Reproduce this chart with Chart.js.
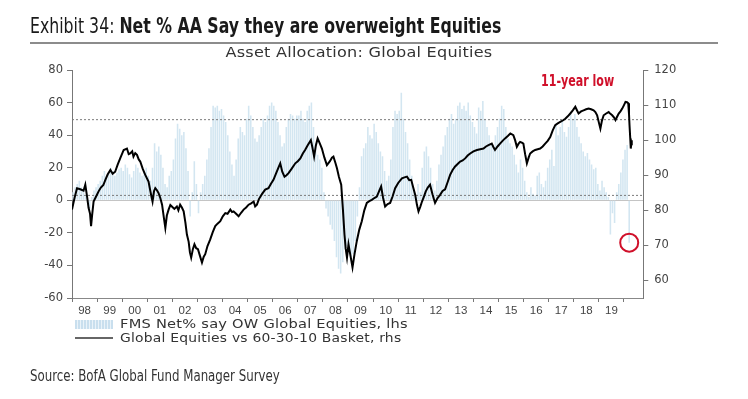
<!DOCTYPE html>
<html>
<head>
<meta charset="utf-8">
<script src="https://cdn.jsdelivr.net/npm/chart.js@4"></script>
<style>
  html,body{margin:0;padding:0;background:#fff;}
  #wrap{position:relative;width:748px;height:399px;overflow:hidden;}
  canvas{position:absolute;left:0;top:0;}
  .t{position:absolute;white-space:nowrap;}
  #title{left:30px;top:13px;font-family:"Liberation Sans Narrow","DejaVu Sans Condensed",sans-serif;font-size:22px;color:#1a1a1a;transform:scaleX(0.795);transform-origin:0 0;}
  #title b{font-weight:bold;}
  #rule{position:absolute;left:30px;top:42px;width:688px;height:2px;background:#8c8c8c;}
  #sub{left:0;width:718px;text-align:center;top:44px;font-family:"DejaVu Sans",sans-serif;font-size:13.5px;color:#333;letter-spacing:0.2px;transform:scaleX(1.19);transform-origin:359px 0;}
  #low{left:541px;top:71px;font-family:"Liberation Sans Narrow","DejaVu Sans Condensed",sans-serif;font-weight:bold;font-size:16px;color:#d0102a;transform:scaleX(0.77);transform-origin:0 0;}
  .leg{left:120px;font-family:"DejaVu Sans",sans-serif;font-size:12.5px;color:#333;letter-spacing:0.2px;transform-origin:0 0;}
  #sw1{position:absolute;left:75px;top:320px;width:38px;height:9px;background:repeating-linear-gradient(90deg,#c9dfee 0px,#c9dfee 2px,#eaf3f9 2px,#eaf3f9 3px);}
  #sw2{position:absolute;left:75px;top:337px;width:38px;height:2px;background:#666;}
  #src{left:30px;top:366px;font-family:"Liberation Sans Narrow","DejaVu Sans Condensed",sans-serif;font-size:16px;color:#333;transform:scaleX(0.82);transform-origin:0 0;}
</style>
</head>
<body>
<div id="wrap">
  <canvas id="c" width="748" height="399"></canvas>
  <div class="t" id="title">Exhibit 34: <b>Net % AA Say they are overweight Equities</b></div>
  <div id="rule"></div>
  <div class="t" id="sub">Asset Allocation: Global Equities</div>
  <div class="t" id="low">11-year low</div>
  <div id="sw1"></div>
  <div class="t leg" style="top:316px;transform:scaleX(1.17)">FMS Net% say OW Global Equities, lhs</div>
  <div id="sw2"></div>
  <div class="t leg" style="top:330px;transform:scaleX(1.11)">Global Equities vs 60-30-10 Basket, rhs</div>
  <div class="t" id="src">Source: BofA Global Fund Manager Survey</div>
</div>
<script>
// ---- DATA ----
const startYear = 1998;
// FMS net % overweight global equities, monthly from Jan 1998 (lhs)
const fms1998 = [5, 8, 10, 12, 8, 6, 3, -2, -5, 2, 6, 8];
const fms1999 = [10, 12, 15, 18, 14, 16, 20, 18, 15, 17, 19, 20];
const fms2000 = [18, 22, 20, 16, 14, 18, 22, 20, 17, 15, 18, 20];
const fms2001 = [15, 12, 20, 35, 30, 33, 28, 20, 10, 8, 15, 18];
const fms2002 = [25, 38, 47, 44, 40, 42, 32, 18, -10, 5, 24, 10];
const fms2003 = [-8, 5, 10, 15, 25, 32, 45, 58, 57, 58, 55, 56];
const fms2004 = [52, 48, 40, 30, 22, 15, 25, 38, 45, 42, 40, 50];
const fms2005 = [58, 52, 45, 38, 36, 40, 45, 50, 48, 52, 58, 60];
const fms2006 = [58, 55, 48, 40, 33, 35, 45, 50, 53, 52, 50, 52];
const fms2007 = [52, 55, 50, 48, 55, 58, 60, 45, 35, 28, 25, 20];
const fms2008 = [5, -5, -10, -15, -18, -25, -35, -42, -45, -38, -30, -28];
const fms2009 = [-30, -37, -33, -25, -10, 8, 27, 32, 35, 45, 40, 38];
const fms2010 = [47, 42, 35, 30, 27, 18, 12, 15, 25, 45, 55, 53];
const fms2011 = [55, 66, 50, 42, 35, 25, 15, 7, 2, 10, 5, 20];
const fms2012 = [30, 33, 27, 20, 10, 6, 12, 22, 28, 33, 40, 45];
const fms2013 = [50, 53, 47, 50, 58, 60, 56, 58, 55, 60, 52, 48];
const fms2014 = [45, 41, 57, 55, 61, 50, 45, 40, 35, 33, 40, 45];
const fms2015 = [50, 58, 56, 45, 38, 35, 33, 28, 22, 17, 25, 20];
const fms2016 = [12, 5, 2, 8, 4, 3, 15, 17, 10, 8, 12, 20];
const fms2017 = [25, 31, 21, 47, 40, 45, 49, 42, 39, 45, 53, 50];
const fms2018 = [53, 45, 39, 35, 30, 27, 29, 25, 22, 19, 20, 10];
const fms2019 = [6, 12, 8, 5, 2, -21, -8, -14, 5, 10, 17, 25];
const fms2020 = [31, 34, -26];

// Global Equities vs 60-30-10 basket (rhs): dates (decimal years) and values
const lineDates = [1998.00,1998.10,1998.20,1998.33,1998.46,1998.53,1998.60,1998.66,1998.72,1998.76,1998.80,1998.86,1998.95,
1999.06,1999.15,1999.25,1999.33,1999.42,1999.53,1999.62,1999.72,1999.82,1999.92,
2000.06,2000.19,2000.26,2000.32,2000.40,2000.45,2000.52,2000.59,2000.66,2000.72,2000.82,2000.92,
2001.05,2001.15,2001.21,2001.27,2001.32,2001.38,2001.45,2001.52,2001.59,2001.66,2001.72,2001.78,2001.85,2001.92,2001.98,
2002.08,2002.18,2002.24,2002.31,2002.38,2002.45,2002.52,2002.58,2002.65,2002.70,2002.75,2002.82,2002.88,2002.95,
2003.02,2003.10,2003.18,2003.25,2003.31,2003.40,2003.51,2003.61,2003.71,2003.80,2003.91,
2004.01,2004.11,2004.20,2004.31,2004.38,2004.44,2004.54,2004.64,2004.74,2004.84,2004.94,
2005.04,2005.14,2005.24,2005.30,2005.37,2005.45,2005.57,2005.70,2005.83,2005.93,
2006.03,2006.15,2006.24,2006.30,2006.38,2006.47,2006.55,2006.63,2006.75,2006.90,
2007.00,2007.10,2007.20,2007.29,2007.40,2007.52,2007.58,2007.65,2007.72,2007.79,2007.88,2007.96,
2008.06,2008.16,2008.28,2008.36,2008.42,2008.50,2008.56,2008.64,2008.73,2008.80,2008.86,2008.91,2008.96,
2009.02,2009.10,2009.18,2009.26,2009.35,2009.45,2009.55,2009.65,2009.75,2009.85,2009.95,
2010.05,2010.15,2010.24,2010.32,2010.40,2010.48,2010.58,2010.68,2010.78,2010.88,
2011.00,2011.15,2011.25,2011.35,2011.44,2011.52,2011.60,2011.68,2011.75,2011.81,2011.88,2011.95,
2012.03,2012.10,2012.18,2012.27,2012.37,2012.47,2012.57,2012.67,2012.77,2012.87,2012.97,
2013.07,2013.17,2013.27,2013.37,2013.47,2013.57,2013.67,2013.77,2013.87,
2014.00,2014.14,2014.27,2014.40,2014.50,2014.60,2014.73,2014.80,2014.86,2014.96,
2015.06,2015.16,2015.26,2015.37,2015.47,2015.59,2015.66,2015.73,2015.80,2015.86,2015.93,2015.99,
2016.06,2016.13,2016.20,2016.26,2016.36,2016.46,2016.56,2016.66,2016.76,2016.86,2016.96,
2017.06,2017.16,2017.26,2017.36,2017.46,2017.56,2017.66,2017.76,2017.86,2017.96,
2018.06,2018.12,2018.19,2018.29,2018.39,2018.49,2018.59,2018.69,2018.79,2018.86,2018.93,
2019.00,2019.06,2019.12,2019.19,2019.29,2019.39,2019.46,2019.53,2019.60,2019.66,2019.72,2019.79,2019.86,2019.93,
2020.00,2020.06,2020.12,2020.17,2020.20,2020.22,2020.25,2020.27,2020.29,2020.31];
const lineValues = [80.2,83.5,86.3,86.0,85.6,87.3,84.0,80.7,79.0,75.5,78.5,82.5,83.8,
85.4,86.5,87.2,88.7,90.2,91.5,90.4,91.0,93.0,94.8,
97.2,97.6,96.0,96.2,96.8,95.3,96.3,95.8,94.5,93.9,91.8,90.1,
88.2,84.5,82.5,85.5,86.3,85.8,84.9,83.5,81.6,78.0,75.0,78.5,80.2,81.5,81.1,
80.4,81.1,80.0,81.6,80.8,79.7,76.5,73.1,71.0,68.0,66.5,69.0,70.3,69.2,
68.9,67.0,65.1,66.8,67.5,69.8,71.7,73.8,75.5,76.2,76.9,
78.3,79.2,79.0,80.2,79.5,79.7,79.0,78.3,79.3,80.2,80.8,
81.6,82.0,82.5,81.1,81.6,83.2,84.6,85.9,86.3,87.6,
88.7,90.8,92.4,93.4,91.0,89.6,90.0,90.6,91.8,93.4,
94.0,94.8,96.2,97.2,98.6,100.0,98.0,95.3,98.5,100.5,99.0,97.6,
95.0,92.9,94.0,95.0,95.3,93.5,92.0,89.5,87.3,80.0,73.1,69.0,66.5,
70.3,67.0,63.7,67.5,71.2,74.5,76.9,80.0,82.1,82.6,83.0,
83.5,83.9,85.5,86.8,83.5,81.1,81.8,82.1,84.0,86.3,
87.8,89.1,89.4,89.6,88.6,88.7,86.5,84.4,81.5,79.7,81.0,82.5,
84.0,85.4,86.5,87.3,84.5,82.1,83.5,84.4,85.5,86.0,88.0,
90.1,91.5,92.5,93.2,93.9,94.2,94.8,95.6,96.2,
96.8,97.2,97.4,97.6,98.2,98.6,99.0,98.0,97.2,98.2,
99.0,99.8,100.5,101.2,101.9,101.4,100.0,98.1,99.0,99.5,99.3,99.0,
96.0,93.4,95.0,96.2,96.8,97.2,97.4,97.6,98.2,99.0,99.8,
100.9,102.8,104.3,104.8,105.2,105.6,106.1,106.8,107.6,108.5,
109.5,108.6,107.6,108.2,108.5,108.8,109.0,108.8,108.5,108.0,107.1,
105.0,103.3,105.5,107.1,107.6,108.0,107.5,107.1,106.5,105.7,106.6,107.6,108.2,109.0,
110.0,110.9,110.8,110.5,107.5,104.3,100.5,97.6,98.8,100.0];

const xTickLabels = ['98','99','00','01','02','03','04','05','06','07','08','09','10','11','12','13','14','15','16','17','18','19'];
const leftTicks = [-60, -40, -20, 0, 20, 40, 60, 80];
const rightTicks = [60, 70, 80, 90, 100, 110, 120];
const refLines = [49.5, 3]; // dotted reference levels (lhs)

// ---- BUILD ----
const fmsAll = [].concat(fms1998,fms1999,fms2000,fms2001,fms2002,fms2003,fms2004,fms2005,fms2006,fms2007,fms2008,
  fms2009,fms2010,fms2011,fms2012,fms2013,fms2014,fms2015,fms2016,fms2017,fms2018,fms2019,fms2020);
const barData = fmsAll.map((v,i)=>({x: startYear + (i+0.5)/12, y: v}));
const lineData = lineDates.map((t,i)=>({x:t, y:lineValues[i]}));
const xMin = 1998, xMax = 2020.77;
const lastBar = barData[barData.length-1];

const refDatasets = refLines.map(v=>({
  type:'line', data:[{x:xMin,y:v},{x:xMax,y:v}], yAxisID:'yL',
  borderColor:'#7a7a7a', borderWidth:1, borderDash:[2,2], pointRadius:0, order:2
}));

const circlePlugin = {
  id:'circle',
  afterDatasetsDraw(chart){
    const ctx = chart.ctx;
    const x = chart.scales.x.getPixelForValue(lastBar.x);
    const y = chart.scales.yL.getPixelForValue(lastBar.y);
    ctx.save();
    ctx.beginPath();
    ctx.arc(x, y, 9, 0, Math.PI*2);
    ctx.strokeStyle = '#d0102a';
    ctx.lineWidth = 2;
    ctx.stroke();
    ctx.restore();
  }
};

const tickFont = {family:'DejaVu Sans', size:11.5};
new Chart(document.getElementById('c'), {
  type:'bar',
  data:{datasets:[
    {type:'bar', data:barData, yAxisID:'yL', backgroundColor:'#d3e6f1', borderWidth:0,
     barPercentage:0.75, categoryPercentage:1, order:3},
    ...refDatasets,
    {type:'line', data:lineData, yAxisID:'yR', borderColor:'#000', borderWidth:2,
     pointRadius:0, tension:0, order:1}
  ]},
  options:{
    responsive:false, animation:false,
    plugins:{legend:{display:false}, tooltip:{enabled:false}},
    layout:{padding:{top:70,left:0,right:0,bottom:0}},
    scales:{
      x:{type:'linear', min:xMin, max:xMax, offset:false,
        afterBuildTicks(s){ s.ticks = xTickLabels.map((l,i)=>({value: startYear+i+0.5})); },
        afterFit(s){ s.height = 101; },
        ticks:{autoSkip:false, maxRotation:0, padding:2, color:'#444',
          font:{family:'Liberation Sans', size:11.5},
          callback:(v,i)=>xTickLabels[i]},
        grid:{offset:true, drawOnChartArea:false, drawTicks:true, tickLength:4, tickColor:'#777', color:'#777'},
        border:{display:true, color:'#888', width:1}
      },
      yL:{position:'left', min:-60, max:80,
        afterBuildTicks(s){ s.ticks = leftTicks.map(v=>({value:v})); },
        afterFit(s){ s.width = 72; },
        ticks:{padding:4, color:'#444', font:tickFont},
        grid:{drawOnChartArea:true, drawTicks:true, tickLength:5, tickColor:'#777',
          color:(c)=> (c.tick && c.tick.value===0) ? '#c4c4c4' : 'rgba(0,0,0,0)'},
        border:{display:true, color:'#777', width:1}
      },
      yR:{position:'right', min:55, max:120,
        afterBuildTicks(s){ s.ticks = rightTicks.map(v=>({value:v})); },
        afterFit(s){ s.width = 104.7; },
        ticks:{padding:6, color:'#444', font:tickFont},
        grid:{drawOnChartArea:false, drawTicks:true, tickLength:5, tickColor:'#777'},
        border:{display:true, color:'#777', width:1}
      }
    }
  },
  plugins:[circlePlugin]
});
</script>
</body>
</html>
